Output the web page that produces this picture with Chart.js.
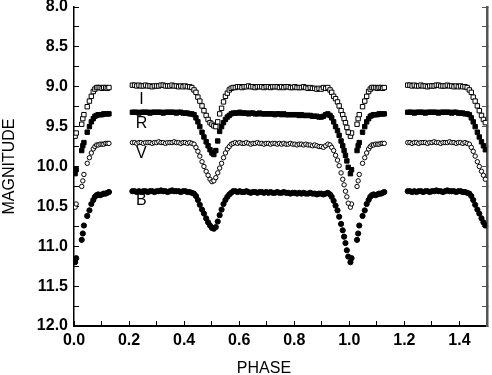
<html>
<head>
<meta charset="UTF-8">
<title>Light curve I R V B</title>
<script src="https://cdn.jsdelivr.net/npm/chart.js"></script>
<style>body { margin: 0; background: #fff; }</style>
</head>
<body>
<canvas id="lc" width="492" height="375"></canvas>
<script>
// orbital phase of each observation (one cycle, 0.13-0.21 not covered)
const phase = [
  0.004, 0.008, 0.028, 0.032, 0.036, 0.048, 0.056, 0.063, 0.070, 0.076, 0.082, 0.088, 0.095, 0.102, 0.108, 0.115, 0.121, 0.127,
  0.212, 0.220, 0.228, 0.236, 0.244, 0.252, 0.260, 0.268, 0.276, 0.284, 0.292, 0.300, 0.308, 0.316, 0.324, 0.332, 0.340, 0.348, 0.356, 0.364, 0.372, 0.380, 0.388, 0.396, 0.404, 0.412, 0.420, 0.428,
  0.436, 0.443, 0.450, 0.457, 0.465, 0.472, 0.480, 0.487, 0.494, 0.501, 0.508, 0.515, 0.522, 0.529, 0.536, 0.543, 0.550, 0.557, 0.564, 0.571,
  0.578, 0.586, 0.594, 0.602, 0.610, 0.618, 0.626, 0.634, 0.642, 0.650, 0.658, 0.666, 0.674, 0.682, 0.690, 0.698, 0.706, 0.714, 0.722, 0.730, 0.738, 0.746, 0.754, 0.762, 0.770, 0.778, 0.786, 0.794, 0.802, 0.810, 0.818, 0.826, 0.834, 0.842, 0.850, 0.858, 0.866, 0.874, 0.882, 0.890, 0.898, 0.906, 0.914, 0.922,
  0.930, 0.936, 0.943, 0.950, 0.957, 0.963, 0.970, 0.976, 0.981, 0.986, 0.991, 0.996
];

const magI = [
  9.62, 9.58, 9.47, 9.40, 9.35, 9.25, 9.18, 9.12, 9.06, 9.03, 9.01, 9.01, 9.01, 9.02, 9.01, 9.01, 9.02, 9.01,
  8.98, 8.98, 8.99, 8.98, 8.99, 8.99, 8.98, 8.99, 8.99, 9.00, 8.99, 8.99, 8.99, 8.98, 8.98, 8.99, 8.99, 8.99, 8.98, 8.99, 8.99, 9.00, 8.99, 9.00, 8.99, 9.00, 9.00, 9.01,
  9.04, 9.07, 9.13, 9.18, 9.24, 9.30, 9.36, 9.41, 9.45, 9.47, 9.49, 9.50, 9.44, 9.34, 9.27, 9.19, 9.12, 9.08, 9.04, 9.02,
  9.01, 9.01, 9.00, 9.00, 9.01, 9.00, 9.00, 8.99, 9.00, 9.00, 9.01, 9.00, 9.00, 9.00, 9.01, 9.00, 9.00, 9.01, 9.00, 9.00, 9.00, 9.01, 9.00, 9.01, 9.00, 9.00, 9.01, 9.01, 9.00, 9.01, 9.01, 9.01, 9.00, 9.01, 9.02, 9.01, 9.02, 9.02, 9.03, 9.02, 9.03, 9.01, 9.02, 9.01,
  9.04, 9.07, 9.12, 9.15, 9.19, 9.24, 9.30, 9.35, 9.40, 9.45, 9.51, 9.57
];

const magR = [
  10.09, 10.04, 9.80, 9.74, 9.70, 9.57, 9.50, 9.44, 9.40, 9.37, 9.36, 9.35, 9.35, 9.35, 9.34, 9.34, 9.34, 9.34,
  9.32, 9.32, 9.32, 9.33, 9.32, 9.32, 9.32, 9.32, 9.33, 9.32, 9.32, 9.32, 9.32, 9.32, 9.33, 9.32, 9.32, 9.32, 9.32, 9.32, 9.33, 9.32, 9.32, 9.33, 9.33, 9.33, 9.34, 9.34,
  9.35, 9.39, 9.44, 9.50, 9.57, 9.63, 9.69, 9.74, 9.79, 9.83, 9.85, 9.80, 9.68, 9.56, 9.50, 9.45, 9.41, 9.38, 9.36, 9.34,
  9.33, 9.33, 9.33, 9.32, 9.33, 9.33, 9.33, 9.34, 9.33, 9.33, 9.34, 9.34, 9.33, 9.34, 9.34, 9.34, 9.34, 9.34, 9.34, 9.35, 9.34, 9.34, 9.35, 9.34, 9.35, 9.35, 9.35, 9.35, 9.35, 9.35, 9.36, 9.35, 9.36, 9.36, 9.36, 9.36, 9.37, 9.37, 9.37, 9.38, 9.38, 9.37, 9.35, 9.34,
  9.36, 9.39, 9.44, 9.50, 9.55, 9.61, 9.68, 9.74, 9.80, 9.86, 9.93, 10.01
];

const magV = [
  10.51, 10.47, 10.25, 10.18, 10.10, 9.96, 9.89, 9.83, 9.78, 9.75, 9.73, 9.73, 9.72, 9.72, 9.72, 9.71, 9.71, 9.71,
  9.70, 9.70, 9.71, 9.70, 9.70, 9.71, 9.70, 9.70, 9.70, 9.71, 9.70, 9.70, 9.69, 9.70, 9.70, 9.71, 9.70, 9.70, 9.70, 9.69, 9.70, 9.70, 9.71, 9.70, 9.70, 9.71, 9.70, 9.71,
  9.72, 9.76, 9.81, 9.87, 9.94, 10.00, 10.06, 10.11, 10.16, 10.19, 10.18, 10.14, 10.08, 10.02, 9.96, 9.89, 9.83, 9.78, 9.75, 9.72,
  9.71, 9.70, 9.71, 9.70, 9.71, 9.71, 9.70, 9.71, 9.72, 9.71, 9.71, 9.70, 9.71, 9.71, 9.72, 9.71, 9.71, 9.72, 9.71, 9.71, 9.72, 9.71, 9.72, 9.71, 9.72, 9.72, 9.71, 9.72, 9.72, 9.73, 9.72, 9.72, 9.73, 9.72, 9.73, 9.73, 9.74, 9.73, 9.74, 9.75, 9.75, 9.76, 9.74, 9.72,
  9.73, 9.76, 9.80, 9.86, 9.92, 9.99, 10.08, 10.16, 10.23, 10.31, 10.38, 10.46
];

const magB = [
  11.20, 11.15, 10.92, 10.84, 10.74, 10.62, 10.55, 10.47, 10.42, 10.38, 10.36, 10.35, 10.36, 10.35, 10.34, 10.34, 10.33, 10.32,
  10.31, 10.31, 10.32, 10.31, 10.32, 10.31, 10.31, 10.32, 10.31, 10.31, 10.32, 10.31, 10.31, 10.30, 10.31, 10.31, 10.32, 10.31, 10.30, 10.31, 10.31, 10.31, 10.32, 10.31, 10.31, 10.32, 10.32, 10.33,
  10.34, 10.37, 10.42, 10.48, 10.54, 10.59, 10.65, 10.70, 10.74, 10.77, 10.78, 10.76, 10.69, 10.61, 10.54, 10.47, 10.42, 10.38, 10.35, 10.33,
  10.31, 10.31, 10.32, 10.31, 10.32, 10.32, 10.31, 10.32, 10.33, 10.32, 10.32, 10.33, 10.32, 10.32, 10.33, 10.32, 10.33, 10.32, 10.33, 10.33, 10.32, 10.33, 10.33, 10.32, 10.33, 10.33, 10.34, 10.33, 10.33, 10.34, 10.33, 10.34, 10.33, 10.34, 10.34, 10.33, 10.34, 10.34, 10.35, 10.34, 10.34, 10.35, 10.34, 10.33,
  10.35, 10.38, 10.43, 10.49, 10.55, 10.63, 10.72, 10.80, 10.88, 10.96, 11.05, 11.13
];

// filter names written on the plot
const bandNames = ['I', 'R', 'V', 'B'];
const bandLabelPhase = [0.245, 0.245, 0.245, 0.245];
const bandLabelMag = [9.16, 9.46, 9.84, 10.43];

const xTickLabels = ['0.0', '0.2', '0.4', '0.6', '0.8', '1.0', '1.2', '1.4'];
const yTickLabels = ['8.0', '8.5', '9.0', '9.5', '10.0', '10.5', '11.0', '11.5', '12.0'];

// each point is drawn at its phase and again one cycle later, up to 1.5
function folded(mags) {
  const pts = [];
  phase.forEach((p, i) => {
    pts.push({ x: p, y: mags[i] });
    if (p + 1 <= 1.5) pts.push({ x: p + 1, y: mags[i] });
  });
  return pts;
}

function findLabel(list, v) {
  const t = list.find(s => Math.abs(parseFloat(s) - v) < 1e-6);
  return t === undefined ? '' : t;
}

const tickFont = { family: 'Liberation Sans', size: 16, weight: 'bold', lineHeight: 1 };

const textOnPlot = {
  id: 'textOnPlot',
  afterDraw(chart) {
    const c = chart.ctx, xs = chart.scales.x, ys = chart.scales.y;
    c.save();
    c.fillStyle = '#000';
    c.textAlign = 'center';
    c.textBaseline = 'middle';
    c.font = '16px "Liberation Sans"';
    bandNames.forEach((n, i) => {
      c.fillText(n, xs.getPixelForValue(bandLabelPhase[i]), ys.getPixelForValue(bandLabelMag[i]));
    });
    c.fillText('PHASE', xs.getPixelForValue(0.69), chart.height - 6);
    c.restore();
  }
};

const ctx = document.getElementById('lc').getContext('2d');
new Chart(ctx, {
  type: 'scatter',
  data: {
    datasets: [
      { label: 'B', data: folded(magB), pointStyle: 'circle', pointRadius: 2.6, backgroundColor: '#000', borderColor: '#000', borderWidth: 1 },
      { label: 'V', data: folded(magV), pointStyle: 'circle', pointRadius: 2.2, backgroundColor: '#fff', borderColor: '#000', borderWidth: 1 },
      { label: 'R', data: folded(magR), pointStyle: 'rect', pointRadius: 3.1, backgroundColor: '#000', borderColor: '#000', borderWidth: 1 },
      { label: 'I', data: folded(magI), pointStyle: 'rect', pointRadius: 3.1, backgroundColor: '#fff', borderColor: '#000', borderWidth: 1 }
    ]
  },
  options: {
    responsive: false,
    animation: false,
    layout: { padding: 0 },
    plugins: { legend: { display: false }, tooltip: { enabled: false } },
    scales: {
      x: {
        type: 'linear', position: 'bottom', min: 0, max: 1.5,
        ticks: { stepSize: 0.1, autoSkip: false, maxRotation: 0, padding: 12, color: '#000', font: tickFont,
                 callback: v => findLabel(xTickLabels, v) },
        grid: { drawOnChartArea: false, tickLength: -5, color: '#000' },
        border: { color: '#000', width: 2 },
        afterFit: s => { s.height = 49; s.paddingRight = 0; }
      },
      y: {
        type: 'linear', position: 'left', reverse: true, min: 8, max: 12,
        ticks: { stepSize: 0.25, autoSkip: false, padding: 11, color: '#000', font: tickFont,
                 callback: v => findLabel(yTickLabels, v) },
        grid: { drawOnChartArea: false, tickLength: -5, color: '#000' },
        border: { color: '#000', width: 1.5 },
        title: { display: true, text: 'MAGNITUDE', color: '#000', padding: 0,
                 font: { family: 'Liberation Sans', size: 16 } },
        afterFit: s => { s.width = 74; s.paddingTop = 7; }
      },
      y2: {
        type: 'linear', position: 'right', reverse: true, min: 8, max: 12,
        ticks: { stepSize: 0.25, display: false },
        grid: { drawOnChartArea: false, tickLength: -5, color: '#555' },
        border: { color: '#555', width: 2.5 },
        afterFit: s => { s.width = 2; s.paddingTop = 0; s.paddingBottom = 0; }
      }
    }
  },
  plugins: [textOnPlot]
});
</script>
</body>
</html>
